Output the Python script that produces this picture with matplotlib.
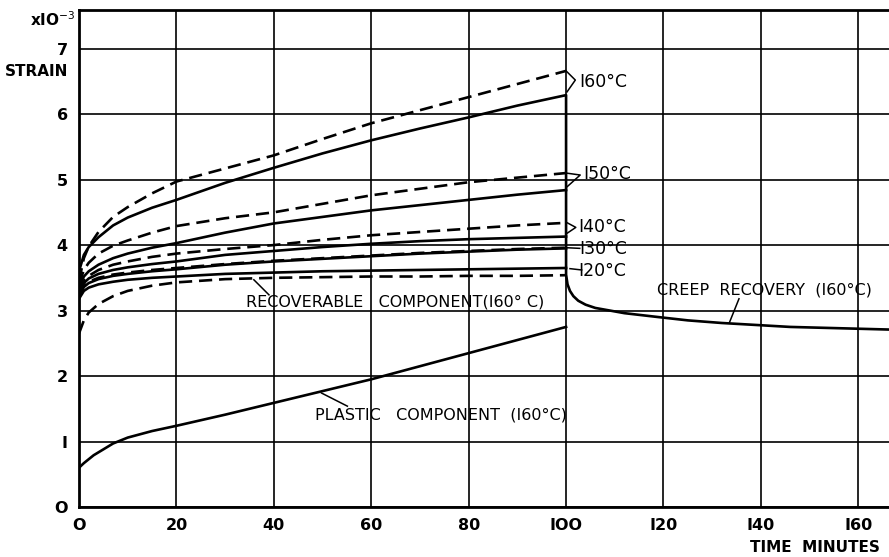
import numpy as np
import matplotlib.pyplot as plt

# creep curves, strain in units of 1e-3, time in minutes
t_load = [0, 1, 2, 4, 7, 10, 15, 20, 30, 40, 50, 60, 70, 80, 90, 100]

s160_meas = [3.6, 3.85, 3.97, 4.12, 4.3, 4.42, 4.57, 4.69, 4.95, 5.18, 5.4, 5.6, 5.78, 5.95, 6.13, 6.29]
s160_calc = [3.45, 3.8, 3.98, 4.2, 4.43, 4.58, 4.79, 4.97, 5.17, 5.37, 5.62, 5.86, 6.06, 6.26, 6.46, 6.66]
s150_meas = [3.35, 3.52, 3.6, 3.7, 3.8, 3.87, 3.96, 4.03, 4.19, 4.33, 4.43, 4.53, 4.61, 4.69, 4.77, 4.84]
s150_calc = [3.4, 3.62, 3.73, 3.87, 3.99, 4.07, 4.19, 4.29, 4.41, 4.5, 4.63, 4.76, 4.86, 4.96, 5.03, 5.10]
s140_meas = [3.28, 3.42, 3.49, 3.56, 3.62, 3.66, 3.71, 3.75, 3.85, 3.91, 3.97, 4.02, 4.06, 4.09, 4.11, 4.13]
s140_calc = [3.3, 3.45, 3.53, 3.62, 3.7, 3.75, 3.82, 3.87, 3.94, 4.0, 4.08, 4.15, 4.2, 4.25, 4.3, 4.34]
s130_meas = [3.22, 3.36, 3.42, 3.48, 3.53, 3.56, 3.6, 3.63, 3.7, 3.75, 3.79, 3.83, 3.87, 3.9, 3.93, 3.95]
s130_calc = [3.24, 3.37, 3.44, 3.5, 3.55, 3.58, 3.62, 3.65, 3.71, 3.76, 3.8, 3.84, 3.88, 3.91, 3.94, 3.96]
s120_meas = [3.18, 3.3, 3.35, 3.4, 3.44, 3.47, 3.5, 3.52, 3.56, 3.58, 3.6, 3.61, 3.62, 3.63, 3.64, 3.65]
recoverable = [2.65, 2.85, 2.97, 3.1, 3.22, 3.3, 3.38, 3.43, 3.48, 3.5, 3.51, 3.52, 3.52, 3.53, 3.53, 3.54]

t_plastic = [0, 1, 3, 5, 7, 10, 15, 20, 30, 40, 50, 60, 70, 80, 90, 100]
plastic = [0.6, 0.67, 0.79, 0.88, 0.97, 1.06, 1.16, 1.24, 1.41, 1.59, 1.77, 1.95, 2.15, 2.35, 2.55, 2.75]

t_recov = [100, 100, 100.3, 100.8, 101.5, 102.5, 104, 106, 109, 112, 119, 125, 132, 146, 166.3]
recov = [6.29, 3.55, 3.4, 3.3, 3.22, 3.15, 3.09, 3.04, 3.0, 2.96, 2.9, 2.85, 2.81, 2.75, 2.71]

temp_labels = ['160°C', '150°C', '140°C', '130°C', '120°C']

fig = plt.figure(figsize=(8.89, 5.57), dpi=100)
ax = fig.add_axes([79/889, 50/557, 810/889, 497/557])
plt.rcParams['font.family'] = ['DejaVu Sans']

lw = 1.9
dash = (0, (5, 2.6))
k = 'black'

ax.plot(t_load, s160_calc, color=k, lw=lw, linestyle=dash)
ax.plot(t_load[:-1] + t_recov, s160_meas[:-1] + recov, color=k, lw=lw)
ax.plot(t_load, s150_calc, color=k, lw=lw, linestyle=dash)
ax.plot(t_load, s150_meas, color=k, lw=lw)
ax.plot(t_load, s140_calc, color=k, lw=lw, linestyle=dash)
ax.plot(t_load, s140_meas, color=k, lw=lw)
ax.plot(t_load, s130_meas, color=k, lw=lw)
ax.plot(t_load, s130_calc, color=k, lw=lw, linestyle=dash)
ax.plot(t_load, s120_meas, color=k, lw=lw)
ax.plot(t_load, recoverable, color=k, lw=lw, linestyle=dash)
ax.plot(t_plastic, plastic, color=k, lw=lw)

ax.set_xlim(0, 166.3)
ax.set_ylim(0, 7.59)
ax.set_xticks(np.arange(0, 161, 20))
ax.set_yticks(np.arange(0, 8, 1))
ax.set_xticklabels(['O', '20', '40', '60', '80', 'IOO', 'I20', 'I40', 'I60'], fontsize=11.5, fontweight='bold')
ax.set_yticklabels(['O', 'I', '2', '3', '4', '5', '6', '7'], fontsize=11.5, fontweight='bold')
ax.tick_params(length=0, pad=8)
ax.grid(True, color=k, lw=1.2)
ax.set_axisbelow(True)
for side in ['left', 'bottom', 'top']:
    ax.spines[side].set_linewidth(2)
ax.spines['right'].set_visible(False)

# temperature brackets
brk_kw = dict(color=k, lw=1.1, clip_on=False)
ax.plot([100, 101.9, 100.2], [6.66, 6.52, 6.34], **brk_kw)
ax.plot([100, 102.9, 100.2], [5.10, 5.07, 4.89], **brk_kw)
ax.plot([100, 102, 100.2], [4.35, 4.27, 4.18], **brk_kw)
ax.plot([100, 102.8], [3.96, 3.95], **brk_kw)
ax.plot([100.8, 103.2], [3.64, 3.62], **brk_kw)
lab_pos = [(102.8, 6.49), (103.5, 5.08), (102.6, 4.27), (102.8, 3.94), (102.6, 3.60)]
for lab, (x, y) in zip(temp_labels, lab_pos):
    ax.text(x, y, lab.replace('1', 'I'), fontsize=12.5, va='center', ha='left')

ax.text(34.3, 3.13, 'RECOVERABLE   COMPONENT(I60° C)', fontsize=11.5, va='center', ha='left')
ax.plot([35.9, 39], [3.47, 3.24], color=k, lw=1.1)
ax.text(118.6, 3.31, 'CREEP  RECOVERY  (I60°C)', fontsize=11.5, va='center', ha='left')
ax.plot([135.5, 133.5], [3.18, 2.81], color=k, lw=1.1)
ax.text(48.4, 1.40, 'PLASTIC   COMPONENT  (I60°C)', fontsize=11.5, va='center', ha='left')
ax.plot([55.1, 49.8], [1.54, 1.74], color=k, lw=1.1)

fig.text(30/889, 1 - 20/557, r'xIO$^{-3}$', fontsize=11, fontweight='bold', va='center', ha='left')
fig.text(5/889, 1 - 72/557, 'STRAIN', fontsize=11, fontweight='bold', va='center', ha='left')
fig.text(880/889, 1 - 548/557, 'TIME  MINUTES', fontsize=11, fontweight='bold', va='center', ha='right')

fig.savefig('out.png', dpi=100)
